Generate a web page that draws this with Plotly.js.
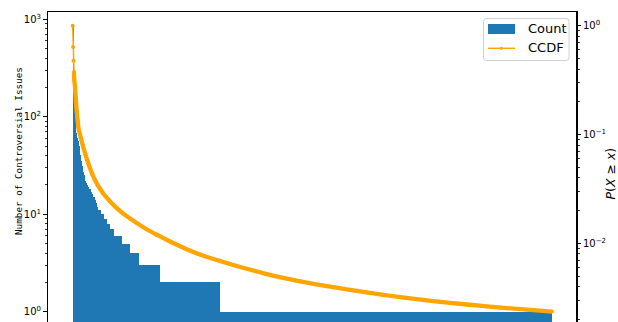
<!DOCTYPE html>
<html>
<head>
<meta charset="utf-8">
<script src="https://cdn.plot.ly/plotly-3.0.1.min.js"></script>
<style>
  html, body { margin: 0; padding: 0; background: #ffffff; }
  #chart { width: 618px; height: 322px; }
</style>
</head>
<body>
<div id="chart"></div>
<script>
// Sorted counts of controversial issues, stored as (value, how many issues share it)
const countValues = [850, 150, 110, 68, 60, 56, 50, 41, 35, 31, 27, 25, 22, 21, 20, 19, 18, 17, 16, 15, 14, 13, 12, 11, 10, 9, 8, 7, 6, 5, 4, 3, 2, 1];
const countRuns   = [1,   1,   1,   1,  1,  1,  1,  1,  1,  1,  1,  1,  1,  1,  1,  1,  2,  1,  1,  2,  1,  1,  1,  3,  3,  3, 3, 4, 8, 8, 9, 21, 60, 332];

// Complementary cumulative distribution P(X >= x) along the rank axis
const ccdfRank = [-0.8, -0.4, 0.0, 0.5, 0.8, 1.5, 1.8, 2.2, 2.5, 2.8, 3.2, 3.5, 3.8, 4.2, 4.5, 4.8,
                  6.5, 9.2, 11.8, 15.2, 19.2, 24.2, 29.2, 36.2, 43.2, 56.5, 69.8, 83.2, 96.5, 111.5, 126.5,
                  159.8, 193.2, 226.5, 259.8, 293.2, 326.5, 359.8, 393.2, 426.5, 478.5];
const ccdfP = [1.0, 0.637, 0.477, 0.377, 0.317, 0.275, 0.242, 0.218, 0.198, 0.180, 0.1655, 0.1543, 0.1427, 0.1331, 0.1249, 0.1165,
               0.1000, 0.0801, 0.0662, 0.0530, 0.0424, 0.0343, 0.0292, 0.0245, 0.0211, 0.01687, 0.01406, 0.01200, 0.01039, 0.00898, 0.00789,
               0.00632, 0.00522, 0.00448, 0.00395, 0.00354, 0.00321, 0.00295, 0.00274, 0.00257, 0.00236];

// Axis tick labels and legend entries
const leftTickVals = [1, 10, 100, 1000];
const leftTickText = ['10<sup>0</sup>', '10<sup>1</sup>', '10<sup>2</sup>', '10<sup>3</sup>'];
const rightTickVals = [0.01, 0.1, 1];
const rightTickText = ['10<sup>\u22122</sup>', '10<sup>\u22121</sup>', '10<sup>0</sup>'];
const legendNames = ['Count', 'CCDF'];

// expand the run-length table into one bar per issue
const counts = [];
countValues.forEach((v, k) => { for (let r = 0; r < countRuns[k]; r++) counts.push(v); });
const ranks = counts.map((_, i) => i);

function logMinors(fromExp, toExp) {
  const out = [];
  for (let e = fromExp; e <= toExp; e++) {
    for (let m = 2; m <= 9; m++) out.push(m * Math.pow(10, e));
  }
  return out;
}

const W = 618, H = 322;
const M = { l: 48, r: 42, t: 12, b: 0 };
const PW = W - M.l - M.r, PH = H - M.t - M.b;
// pixel position -> paper fraction, for the legend box drawn as shapes
const px = v => (v - M.l) / PW;
const py = v => (H - M.b - v) / PH;

function roundRect(x0, y0, x1, y1, r) {
  const X = px, Y = py;
  return 'M' + X(x0 + r) + ',' + Y(y0) +
    ' L' + X(x1 - r) + ',' + Y(y0) + ' Q' + X(x1) + ',' + Y(y0) + ' ' + X(x1) + ',' + Y(y0 + r) +
    ' L' + X(x1) + ',' + Y(y1 - r) + ' Q' + X(x1) + ',' + Y(y1) + ' ' + X(x1 - r) + ',' + Y(y1) +
    ' L' + X(x0 + r) + ',' + Y(y1) + ' Q' + X(x0) + ',' + Y(y1) + ' ' + X(x0) + ',' + Y(y1 - r) +
    ' L' + X(x0) + ',' + Y(y0 + r) + ' Q' + X(x0) + ',' + Y(y0) + ' ' + X(x0 + r) + ',' + Y(y0) + ' Z';
}

const BLUE = '#1f77b4';
const ORANGE = '#ffa500';
const band = 3; // past the first few points the dense markers merge into a thick band

const traces = [
  {
    type: 'bar', name: legendNames[0], x: ranks, y: counts,
    marker: { color: BLUE, line: { width: 0 } },
    xaxis: 'x', yaxis: 'y', showlegend: false
  },
  {
    type: 'scatter', mode: 'lines', showlegend: false, hoverinfo: 'skip',
    x: ccdfRank.slice(band), y: ccdfP.slice(band),
    line: { color: ORANGE, width: 4.3, shape: 'spline', smoothing: 0.8 },
    xaxis: 'x', yaxis: 'y2'
  },
  {
    type: 'scatter', mode: 'lines+markers', name: legendNames[1], showlegend: false,
    x: ccdfRank, y: ccdfP,
    line: { color: ORANGE, width: 1.5 },
    marker: { color: ORANGE, size: 4 },
    xaxis: 'x', yaxis: 'y2'
  }
];

const tickFont = { family: 'DejaVu Sans, sans-serif', size: 10, color: '#000000' };
const legendFont = { family: 'DejaVu Sans, sans-serif', size: 13, color: '#000000' };

const layout = {
  width: W, height: H,
  margin: { l: M.l, r: M.r, t: M.t, b: M.b, pad: 0 },
  paper_bgcolor: '#ffffff', plot_bgcolor: '#ffffff',
  bargap: 0,
  showlegend: false,
  xaxis: {
    range: [-25.5, 502.5], side: 'top',
    showline: true, linecolor: '#000000', linewidth: 1.5,
    ticks: '', showticklabels: false, showgrid: false, zeroline: false, fixedrange: true
  },
  yaxis: {
    type: 'log', range: [-0.105, 3.075],
    tickvals: leftTickVals, ticktext: leftTickText,
    ticks: 'outside', ticklen: 3.5, tickwidth: 1, tickcolor: '#000000',
    minor: { tickvals: logMinors(0, 2), ticks: 'outside', ticklen: 2, tickwidth: 0.8, tickcolor: '#000000' },
    showline: true, linecolor: '#000000', linewidth: 1.5,
    showgrid: false, zeroline: false, tickfont: tickFont
  },
  yaxis2: {
    type: 'log', range: [-2.723, 0.126], overlaying: 'y', side: 'right', anchor: 'x',
    tickvals: rightTickVals, ticktext: rightTickText,
    ticks: 'outside', ticklen: 3.5, tickwidth: 1, tickcolor: '#000000',
    minor: { tickvals: logMinors(-3, -1), ticks: 'outside', ticklen: 2, tickwidth: 0.8, tickcolor: '#000000' },
    showline: true, linecolor: '#000000', linewidth: 1.5,
    showgrid: false, zeroline: false, tickfont: tickFont
  },
  shapes: [
    // legend frame
    { type: 'path', xref: 'paper', yref: 'paper', path: roundRect(483.5, 18.5, 569, 60.5, 3),
      fillcolor: 'rgba(255,255,255,0.85)', line: { color: '#d0d0d0', width: 1 } },
    // legend swatch for the bars
    { type: 'rect', xref: 'paper', yref: 'paper', x0: px(488), x1: px(515), y0: py(24), y1: py(34),
      fillcolor: BLUE, line: { width: 0 } },
    // legend swatch for the CCDF line and its marker
    { type: 'line', xref: 'paper', yref: 'paper', x0: px(488), x1: px(515), y0: py(48.3), y1: py(48.3),
      line: { color: ORANGE, width: 1.5 } },
    { type: 'circle', xref: 'paper', yref: 'paper', x0: px(499.8), x1: px(502.8), y0: py(46.8), y1: py(49.8),
      fillcolor: ORANGE, line: { width: 0 } }
  ],
  annotations: [
    {
      text: legendNames[0], xref: 'paper', yref: 'paper', x: px(525.5), y: py(29),
      xanchor: 'left', yanchor: 'middle', showarrow: false, font: legendFont
    },
    {
      text: legendNames[1], xref: 'paper', yref: 'paper', x: px(525.5), y: py(48),
      xanchor: 'left', yanchor: 'middle', showarrow: false, font: legendFont
    },
    {
      text: 'Number of Controversial Issues', textangle: -90,
      xref: 'paper', yref: 'paper', x: px(18), y: py(151),
      xanchor: 'center', yanchor: 'middle', showarrow: false,
      font: { family: 'DejaVu Sans Mono, monospace', size: 9.3, color: '#000000' }
    },
    {
      text: '<i>P</i>(<i>X</i> \u2265 <i>x</i>)', textangle: -90,
      xref: 'paper', yref: 'paper', x: px(609.5), y: py(174),
      xanchor: 'center', yanchor: 'middle', showarrow: false,
      font: { family: 'DejaVu Sans, sans-serif', size: 12.5, color: '#000000' }
    }
  ]
};

Plotly.newPlot('chart', traces, layout, { displayModeBar: false, staticPlot: true });
</script>
</body>
</html>
